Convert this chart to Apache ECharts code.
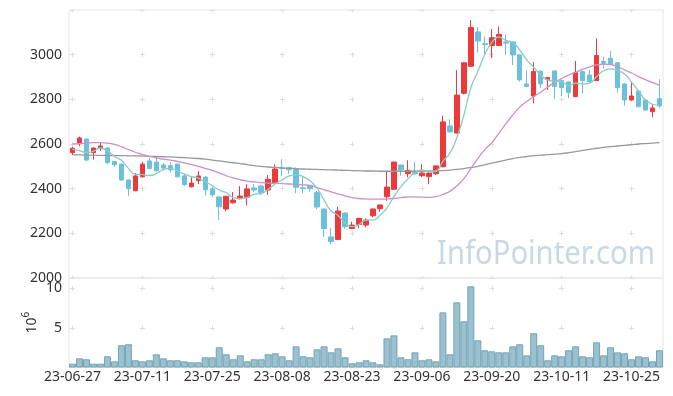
<!DOCTYPE html>
<html><head><meta charset="utf-8">
<script src="https://cdn.jsdelivr.net/npm/echarts@6/dist/echarts.min.js"></script>
<style>html,body{margin:0;padding:0;background:#fff}#c{width:673px;height:396px}</style>
</head><body><div id="c"></div>
<script>
const dates = ['23-06-27','23-06-28','23-06-29','23-06-30','23-07-03','23-07-04','23-07-05','23-07-06','23-07-07','23-07-10',
'23-07-11','23-07-12','23-07-13','23-07-14','23-07-17','23-07-18','23-07-19','23-07-20','23-07-21','23-07-24',
'23-07-25','23-07-26','23-07-27','23-07-28','23-07-31','23-08-01','23-08-02','23-08-03','23-08-04','23-08-07',
'23-08-08','23-08-09','23-08-10','23-08-11','23-08-14','23-08-16','23-08-17','23-08-18','23-08-21','23-08-22',
'23-08-23','23-08-24','23-08-25','23-08-28','23-08-29','23-08-30','23-08-31','23-09-01','23-09-04','23-09-05',
'23-09-06','23-09-07','23-09-08','23-09-11','23-09-12','23-09-13','23-09-14','23-09-15','23-09-18','23-09-19',
'23-09-20','23-09-21','23-09-22','23-09-25','23-09-26','23-09-27','23-10-04','23-10-05','23-10-06','23-10-10',
'23-10-11','23-10-12','23-10-13','23-10-16','23-10-17','23-10-18','23-10-19','23-10-20','23-10-23','23-10-24',
'23-10-25','23-10-26','23-10-27','23-10-30','23-10-31'];

const opens = [2561,2601,2622,2561,2579,2582,2522,2510,2439,2391,
2453,2524,2519,2506,2503,2510,2457,2409,2436,2452,
2399,2363,2309,2337,2355,2361,2403,2412,2394,2424,
2494,2494,2488,2404,2415,2382,2309,2184,2172,2291,
2221,2240,2237,2279,2310,2364,2397,2506,2467,2478,
2458,2454,2467,2498,2681,2649,2827,2948,3102,3049,
3041,3041,3057,3057,2999,2869,2815,2926,2888,2927,
2884,2878,2812,2924,2909,2884,2969,2984,2964,2869,
2797,2837,2797,2745,2803];
const closes = [2581,2627,2528,2582,2591,2516,2507,2439,2400,2457,
2510,2490,2480,2492,2484,2453,2418,2425,2457,2395,
2373,2319,2366,2349,2367,2399,2394,2382,2442,2488,
2490,2485,2406,2400,2400,2318,2221,2163,2300,2230,
2237,2267,2259,2309,2327,2407,2519,2484,2482,2467,
2470,2470,2502,2699,2654,2819,2964,3122,3061,3045,
3076,3091,3052,2999,2887,2857,2925,2869,2898,2857,
2853,2830,2920,2884,2879,2996,2961,2958,2853,2797,
2815,2767,2752,2761,2770];
const lows = [2551,2590,2525,2530,2570,2510,2498,2434,2368,2388,
2450,2488,2477,2480,2472,2451,2413,2405,2420,2369,
2361,2260,2299,2333,2352,2325,2385,2372,2372,2422,
2457,2466,2379,2379,2386,2309,2184,2151,2170,2221,
2219,2223,2227,2272,2297,2346,2395,2458,2451,2461,
2452,2420,2461,2496,2652,2646,2822,2945,3009,2999,
2984,3038,2999,2954,2879,2855,2782,2849,2842,2800,
2815,2805,2810,2827,2875,2882,2939,2955,2830,2772,
2795,2765,2748,2720,2760];
const highs = [2588,2633,2625,2584,2606,2584,2524,2512,2441,2470,
2520,2539,2543,2515,2519,2512,2468,2451,2479,2455,
2409,2365,2368,2385,2411,2420,2421,2414,2461,2509,
2532,2497,2495,2454,2417,2391,2311,2223,2319,2293,
2252,2269,2267,2311,2328,2476,2522,2508,2527,2521,
2509,2472,2504,2727,2711,2931,2967,3155,3122,3081,
3115,3126,3088,3060,3001,2931,2966,2930,2900,2930,
2890,2882,2972,2928,2931,3073,2991,3016,2967,2872,
2879,2840,2800,2779,2890];
const ma5 = [2576,2570,2562,2568,2582,2569,2545,2527,2491,2464,
2463,2459,2467,2486,2491,2480,2465,2454,2447,2430,
2414,2394,2382,2360,2355,2360,2375,2378,2397,2421,
2439,2457,2462,2454,2436,2402,2349,2300,2280,2246,
2230,2239,2259,2260,2280,2314,2364,2409,2444,2472,
2484,2475,2478,2522,2559,2629,2728,2852,2924,3002,
3054,3079,3065,3053,3021,2977,2944,2907,2887,2881,
2880,2861,2872,2869,2873,2902,2928,2936,2929,2913,
2877,2838,2797,2778,2773];
const ma20 = [2600,2602,2604,2606,2606,2604,2598,2588,2575,2563,
2552,2545,2538,2532,2528,2522,2515,2508,2500,2491,
2482,2470,2458,2448,2440,2434,2430,2427,2425,2424,
2423,2421,2419,2417,2414,2405,2395,2386,2377,2368,
2360,2356,2354,2353,2353,2354,2356,2360,2363,2363,
2362,2361,2364,2374,2388,2412,2445,2490,2535,2575,
2605,2648,2690,2730,2765,2790,2812,2832,2855,2876,
2893,2908,2921,2934,2945,2954,2958,2956,2946,2932,
2918,2902,2888,2875,2864];
const ma60 = [2551,2551,2550,2550,2549,2549,2548,2548,2547,2547,
2546,2545,2544,2543,2542,2540,2539,2537,2535,2532,
2528,2524,2520,2516,2512,2508,2503,2500,2497,2495,
2493,2491,2490,2488,2487,2486,2485,2484,2483,2482,
2481,2480,2479,2479,2478,2478,2478,2478,2478,2478,
2478,2479,2480,2481,2483,2486,2490,2495,2500,2507,
2514,2521,2528,2535,2540,2544,2548,2550,2552,2555,
2557,2561,2566,2571,2576,2581,2585,2588,2591,2594,
2597,2600,2602,2604,2606];
const volumes = [0.48,1.16,1.04,0.48,0.48,1.42,0.78,2.81,2.94,0.91,
0.78,0.91,1.67,1.16,0.91,0.91,0.78,0.66,0.66,1.29,
1.29,2.56,1.67,1.04,1.54,0.78,1.04,1.04,1.67,1.80,
1.42,0.91,2.68,1.42,1.29,2.30,2.68,1.92,2.43,1.29,
0.53,0.66,0.91,0.66,0.40,3.69,4.07,1.29,1.04,1.92,
0.91,1.04,0.78,6.98,1.67,8.25,5.85,10.28,3.44,2.18,
2.05,1.92,1.92,2.68,2.94,1.54,4.33,2.81,0.91,1.54,
1.42,2.18,2.68,1.42,1.29,3.19,1.54,2.56,1.92,1.80,
1.04,1.42,1.29,0.78,2.18];
const priceTicks = {min: 2000, max: 3200, interval: 200};
const volTicks = {min: 0, max: 11.33, interval: 5};

const candles = dates.map((d, i) => [opens[i], closes[i], lows[i], highs[i]]);

const FONT = '"Noto Sans", sans-serif';
const UP = '#ec3a3c', DOWN = '#6bc1d9';
const GL = 69, GR = 10, PT = 10, PH = 268, VT = 278, VH = 89.5;
const bandW = (673 - GL - GR) / dates.length;
const period = bandW * 10;
const cross = 5;
const hDash = {type: [cross, period - cross], dashOffset: period - (bandW / 2 - cross / 2)};
const pStep = PH / ((priceTicks.max - priceTicks.min) / priceTicks.interval);
const vStep = VH / (volTicks.max / volTicks.interval);
const vFirst = VH - vStep * 2;
const pDash = {type: [cross, pStep - cross], dashOffset: cross / 2};
const vDash = {type: [cross, vStep - cross], dashOffset: vStep - (vFirst - cross / 2)};
const splitCol = '#dedede';
const plain = v => String(v);

const wm = 'InfoPointer.com';
const cv = document.createElement('canvas').getContext('2d');
cv.font = '33px "Noto Sans"';
const wmScale = 218 / cv.measureText(wm).width;

const chart = echarts.init(document.getElementById('c'), null, {renderer: 'canvas'});
chart.setOption({
  animation: false,
  textStyle: {fontFamily: FONT},
  grid: [
    {left: GL, right: GR, top: PT, height: PH, show: true, borderColor: '#e6e6e6', borderWidth: 1},
    {left: GL, right: GR, top: VT, height: VH, show: true, borderColor: '#e6e6e6', borderWidth: 1}
  ],
  graphic: [{
    type: 'text', x: 437, y: 255, scaleX: wmScale, z: 0, silent: true,
    style: {text: wm, font: '33px "Noto Sans"', fill: '#c8d9e5', verticalAlign: 'middle', align: 'left'}
  }],
  xAxis: [
    {type: 'category', gridIndex: 0, data: dates, boundaryGap: true,
     axisLine: {show: false}, axisTick: {show: false}, axisLabel: {show: false},
     splitLine: {show: true, interval: 9, alignWithLabel: true, lineStyle: Object.assign({color: splitCol, width: 1}, pDash)}},
    {type: 'category', gridIndex: 1, data: dates, boundaryGap: true,
     axisLine: {show: false}, axisTick: {show: false},
     axisLabel: {interval: 9, color: '#333', fontSize: 14, fontFamily: FONT, margin: 3},
     splitLine: {show: true, interval: 9, alignWithLabel: true, lineStyle: Object.assign({color: splitCol, width: 1}, vDash)}}
  ],
  yAxis: [
    {type: 'value', gridIndex: 0, min: priceTicks.min, max: priceTicks.max, interval: priceTicks.interval,
     axisLine: {show: false}, axisTick: {show: false},
     axisLabel: {color: '#333', fontSize: 14, fontFamily: FONT, margin: 7, showMaxLabel: false, formatter: plain},
     splitLine: {show: true, lineStyle: Object.assign({color: splitCol, width: 1}, hDash)}},
    {type: 'value', gridIndex: 1, min: volTicks.min, max: volTicks.max, interval: volTicks.interval,
     axisLine: {show: false}, axisTick: {show: false},
     axisLabel: {color: '#333', fontSize: 14, fontFamily: FONT, margin: 7, showMinLabel: false, showMaxLabel: false, formatter: plain},
     splitLine: {show: true, lineStyle: Object.assign({color: splitCol, width: 1}, hDash)},
     name: '{a|10}{b|6}', nameLocation: 'middle', nameRotate: 90, nameGap: 30, nameMoveOverlap: false,
     nameTextStyle: {rich: {
       a: {fontSize: 14, color: '#333', fontFamily: FONT, verticalAlign: 'bottom'},
       b: {fontSize: 10, color: '#333', fontFamily: FONT, verticalAlign: 'bottom', padding: [0, 0, 8, 0]}
     }}}
  ],
  series: [
    {type: 'candlestick', xAxisIndex: 0, yAxisIndex: 0, data: candles, barWidth: 5,
     itemStyle: {color: UP, color0: DOWN, borderColor: UP, borderColor0: DOWN, borderWidth: 1}},
    {type: 'line', xAxisIndex: 0, yAxisIndex: 0, data: ma60, smooth: true, symbol: 'none',
     lineStyle: {color: '#999999', width: 1.3}},
    {type: 'line', xAxisIndex: 0, yAxisIndex: 0, data: ma20, smooth: true, symbol: 'none',
     lineStyle: {color: '#cc90c6', width: 1.3}},
    {type: 'line', xAxisIndex: 0, yAxisIndex: 0, data: ma5, smooth: true, symbol: 'none',
     lineStyle: {color: '#88cdc2', width: 1.3}},
    {type: 'bar', xAxisIndex: 1, yAxisIndex: 1, data: volumes, barCategoryGap: '0%',
     itemStyle: {color: '#9bc0d0', borderColor: '#74a3b6', borderWidth: 1}}
  ]
});
</script>
</body></html>
